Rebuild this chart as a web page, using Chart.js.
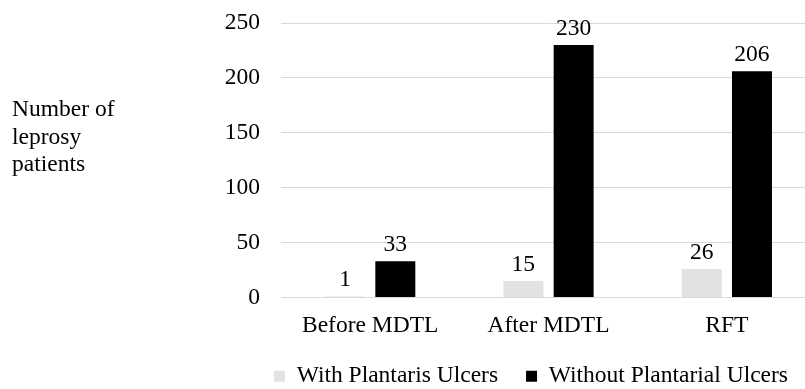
<!DOCTYPE html>
<html>
<head>
<meta charset="utf-8">
<script src="https://cdn.jsdelivr.net/npm/chart.js@4.4.1/dist/chart.umd.min.js"></script>
<style>
  html, body { margin: 0; padding: 0; background: #ffffff; }
  #wrap { width: 805px; height: 389px; overflow: hidden; position: relative; background: #ffffff; }
  canvas { display: block; }
</style>
</head>
<body>
<div id="wrap"><canvas id="chart" width="820" height="400" style="width:820px;height:400px"></canvas></div>
<script>
// Patient counts per treatment stage
const categories = ['Before MDTL', 'After MDTL', 'RFT'];
const withUlcers = [1, 15, 26];
const withoutUlcers = [33, 230, 206];
const seriesNames = ['With Plantaris Ulcers', 'Without Plantarial Ulcers'];
const yTicks = [0, 50, 100, 150, 200, 250];
const yTitleLines = ['Number of', 'leprosy', 'patients'];

const FONT_FAMILY = "'Liberation Serif', 'Times New Roman', serif";
const FONT_SIZE = 23.5;
const baseFont = { family: FONT_FAMILY, size: FONT_SIZE };

// Horizontal, multi-line y-axis title to the left of the tick labels
const yTitlePlugin = {
  id: 'yTitle',
  afterDraw(chart) {
    const ctx = chart.ctx;
    ctx.save();
    ctx.font = FONT_SIZE + 'px ' + FONT_FAMILY;
    ctx.fillStyle = '#000000';
    ctx.textAlign = 'left';
    ctx.textBaseline = 'alphabetic';
    yTitleLines.forEach((line, i) => ctx.fillText(line, 12, 116 + i * 27.5));
    ctx.restore();
  }
};

// Value labels above each bar
const valueLabelPlugin = {
  id: 'valueLabels',
  afterDatasetsDraw(chart) {
    const ctx = chart.ctx;
    ctx.save();
    ctx.font = FONT_SIZE + 'px ' + FONT_FAMILY;
    ctx.fillStyle = '#000000';
    ctx.textAlign = 'center';
    ctx.textBaseline = 'alphabetic';
    chart.data.datasets.forEach((ds, di) => {
      const meta = chart.getDatasetMeta(di);
      meta.data.forEach((bar, i) => {
        ctx.fillText(String(ds.data[i]), bar.x, bar.y - 10);
      });
    });
    ctx.restore();
  }
};

new Chart(document.getElementById('chart'), {
  type: 'bar',
  data: {
    labels: categories,
    datasets: [
      { label: seriesNames[0], data: withUlcers, backgroundColor: '#e2e2e2', borderWidth: 0 },
      { label: seriesNames[1], data: withoutUlcers, backgroundColor: '#000000', borderWidth: 0 }
    ]
  },
  options: {
    responsive: false,
    devicePixelRatio: 1,
    animation: false,
    categoryPercentage: 0.564,
    barPercentage: 0.795,
    layout: { padding: { left: 221, right: 4, top: 23, bottom: 2 } },
    scales: {
      x: {
        grid: { display: false, drawTicks: false },
        border: { display: false },
        ticks: { color: '#000000', font: baseFont, padding: 14, maxRotation: 0 },
        afterFit(scale) { scale.height = 39; }
      },
      y: {
        min: yTicks[0],
        max: yTicks[yTicks.length - 1],
        afterBuildTicks(scale) { scale.ticks = yTicks.map(v => ({ value: v })); },
        grid: { color: '#d9d9d9', lineWidth: 1, drawTicks: false },
        border: { display: false },
        ticks: { color: '#000000', font: baseFont, padding: 21 },
        afterFit(scale) {
          scale.width = 60;
          scale.paddingTop = 0;
          scale.paddingBottom = 0;
        }
      }
    },
    plugins: {
      legend: {
        position: 'bottom',
        align: 'end',
        labels: {
          boxWidth: 11,
          boxHeight: 11,
          padding: 28,
          color: '#000000',
          font: baseFont
        }
      },
      tooltip: { enabled: false },
      title: { display: false }
    }
  },
  plugins: [yTitlePlugin, valueLabelPlugin]
});
</script>
</body>
</html>
